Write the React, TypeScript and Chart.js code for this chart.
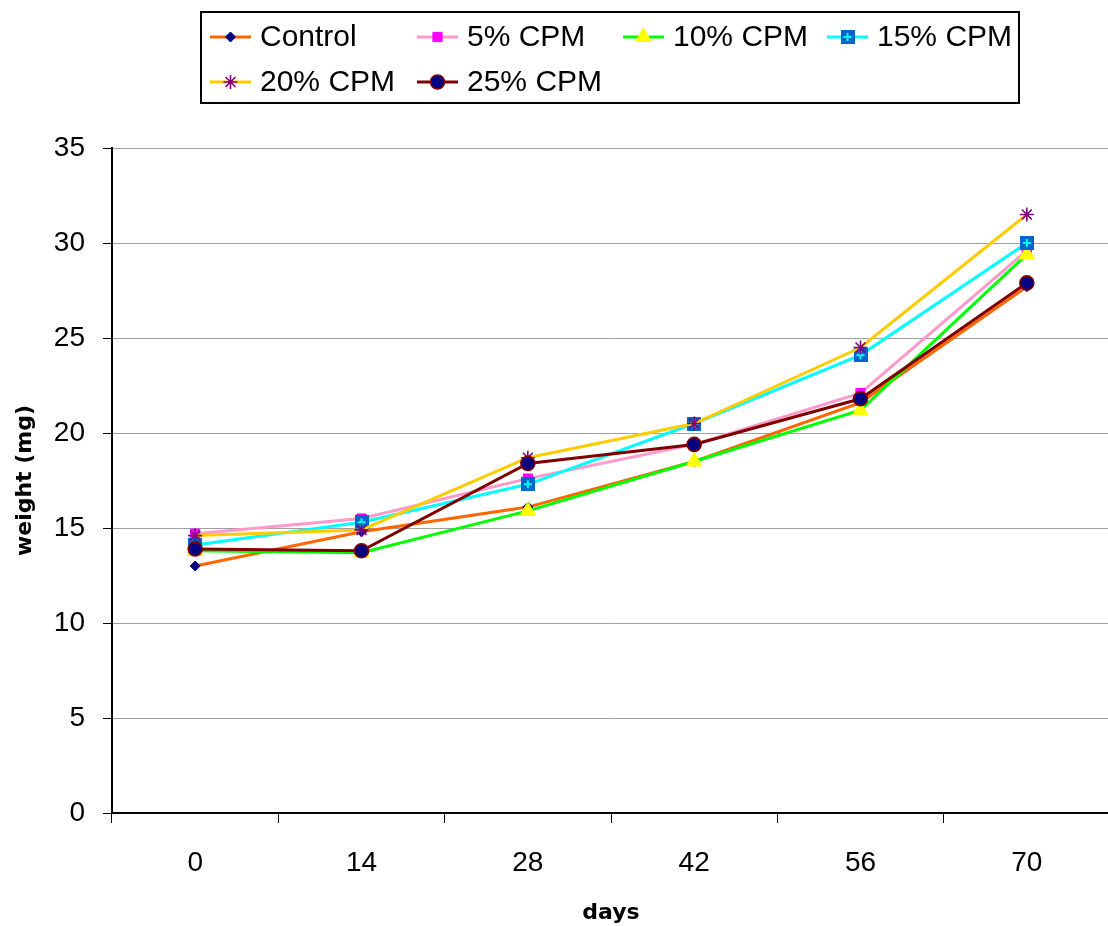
import React, { useEffect, useRef } from "react";
import { Chart, registerables } from "chart.js";

Chart.register(...registerables);

const days = ["0", "14", "28", "42", "56", "70"];
const seriesNames = ["Control", "5% CPM", "10% CPM", "15% CPM", "20% CPM", "25% CPM"];
const control = [13.0, 14.8, 16.1, 18.5, 21.6, 27.7];
const cpm5 = [14.7, 15.5, 17.6, 19.4, 22.1, 29.6];
const cpm10 = [13.8, 13.7, 15.9, 18.5, 21.2, 29.4];
const cpm15 = [14.1, 15.3, 17.3, 20.5, 24.1, 30.0];
const cpm20 = [14.6, 14.9, 18.7, 20.5, 24.5, 31.5];
const cpm25 = [13.9, 13.8, 18.4, 19.4, 21.8, 27.9];
const yTicks = [0, 5, 10, 15, 20, 25, 30, 35];

type Marker = {
  style: string;
  radius: number;
  bg: string;
  border: string;
  borderWidth: number;
};

const lineColors = ["#FF6600", "#FF99CC", "#00FF00", "#00FFFF", "#FFCC00", "#800000"];
const markers: Marker[] = [
  { style: "rectRot", radius: 5, bg: "#000080", border: "#000080", borderWidth: 1 },
  { style: "rect", radius: 6.5, bg: "#FF00FF", border: "#FF00FF", borderWidth: 1 },
  { style: "triangle", radius: 9, bg: "#FFFF00", border: "#FFFF00", borderWidth: 1 },
  { style: "image", radius: 7, bg: "#0066CC", border: "#00FFFF", borderWidth: 1 },
  { style: "star", radius: 7, bg: "#800080", border: "#800080", borderWidth: 1.6 },
  { style: "circle", radius: 7, bg: "#000080", border: "#800000", borderWidth: 1.6 },
];

function makeSquarePlus(): HTMLCanvasElement {
  const c = document.createElement("canvas");
  c.width = 14;
  c.height = 14;
  const g = c.getContext("2d")!;
  g.fillStyle = "#0066CC";
  g.fillRect(0, 0, 14, 14);
  g.strokeStyle = "#00FFFF";
  g.lineWidth = 2;
  g.beginPath();
  g.moveTo(7, 3);
  g.lineTo(7, 11);
  g.moveTo(3, 7);
  g.lineTo(11, 7);
  g.stroke();
  return c;
}

function drawMarker(ctx: CanvasRenderingContext2D, m: Marker, x: number, y: number, img: HTMLCanvasElement) {
  const r = m.radius;
  ctx.save();
  ctx.fillStyle = m.bg;
  ctx.strokeStyle = m.border;
  ctx.lineWidth = m.borderWidth;
  ctx.beginPath();
  if (m.style === "image") {
    ctx.drawImage(img, x - img.width / 2, y - img.height / 2);
    ctx.restore();
    return;
  } else if (m.style === "rectRot") {
    ctx.moveTo(x, y - r);
    ctx.lineTo(x + r, y);
    ctx.lineTo(x, y + r);
    ctx.lineTo(x - r, y);
    ctx.closePath();
    ctx.fill();
    ctx.stroke();
  } else if (m.style === "rect") {
    const s = r * Math.SQRT1_2;
    ctx.rect(x - s, y - s, 2 * s, 2 * s);
    ctx.fill();
    ctx.stroke();
  } else if (m.style === "triangle") {
    let a = 0;
    for (let k = 0; k < 3; k++) {
      const px = x + Math.sin(a) * r;
      const py = y - Math.cos(a) * r;
      if (k === 0) ctx.moveTo(px, py);
      else ctx.lineTo(px, py);
      a += (2 * Math.PI) / 3;
    }
    ctx.closePath();
    ctx.fill();
    ctx.stroke();
  } else if (m.style === "star") {
    ctx.moveTo(x, y - r);
    ctx.lineTo(x, y + r);
    ctx.moveTo(x - r, y);
    ctx.lineTo(x + r, y);
    const d = r * Math.SQRT1_2;
    ctx.moveTo(x - d, y - d);
    ctx.lineTo(x + d, y + d);
    ctx.moveTo(x - d, y + d);
    ctx.lineTo(x + d, y - d);
    ctx.stroke();
  } else {
    ctx.arc(x, y, r, 0, Math.PI * 2);
    ctx.fill();
    ctx.stroke();
  }
  ctx.restore();
}

export default function App() {
  const ref = useRef<HTMLCanvasElement | null>(null);

  useEffect(() => {
    document.body.style.margin = "0";
    document.body.style.overflow = "hidden";
    const canvas = ref.current;
    if (!canvas) return;
    const img = makeSquarePlus();
    const values = [control, cpm5, cpm10, cpm15, cpm20, cpm25];

    const legendPlugin = {
      id: "boxLegend",
      afterDraw(chart: Chart) {
        const ctx = chart.ctx;
        ctx.save();
        ctx.strokeStyle = "#000";
        ctx.lineWidth = 2;
        ctx.strokeRect(201, 12, 818, 91);
        const colX = [210, 417, 623, 827];
        const rowY = [37, 82];
        seriesNames.forEach((name, i) => {
          const x = colX[i % 4];
          const y = rowY[Math.floor(i / 4)];
          ctx.strokeStyle = lineColors[i];
          ctx.lineWidth = 3;
          ctx.beginPath();
          ctx.moveTo(x, y);
          ctx.lineTo(x + 41, y);
          ctx.stroke();
          drawMarker(ctx, markers[i], x + 20.5, y, img);
          ctx.fillStyle = "#000";
          ctx.font = "30px 'Liberation Sans', Arial, sans-serif";
          ctx.textBaseline = "middle";
          ctx.textAlign = "left";
          ctx.fillText(name, x + 50, y + 1);
        });
        ctx.restore();
      },
    };

    const chart = new Chart(canvas, {
      type: "line",
      data: {
        labels: days,
        datasets: seriesNames.map((name, i) => ({
          label: name,
          data: values[i],
          borderColor: lineColors[i],
          borderWidth: 3,
          backgroundColor: markers[i].bg,
          pointStyle: (markers[i].style === "image" ? img : markers[i].style) as any,
          pointRadius: markers[i].radius,
          pointHoverRadius: markers[i].radius,
          pointBackgroundColor: markers[i].bg,
          pointBorderColor: markers[i].border,
          pointBorderWidth: markers[i].borderWidth,
          tension: 0,
          fill: false,
          order: seriesNames.length - i,
        })),
      },
      options: {
        responsive: false,
        animation: false,
        devicePixelRatio: 1,
        layout: { padding: { top: 148, left: 0, right: 0, bottom: 0 } },
        plugins: {
          legend: { display: false },
          tooltip: { enabled: false },
        },
        scales: {
          x: {
            type: "category",
            offset: true,
            afterFit: (s: any) => {
              s.height = 113;
            },
            grid: {
              display: true,
              drawOnChartArea: false,
              drawTicks: true,
              tickLength: 10,
              tickColor: "#000",
              tickWidth: 1,
              offset: true,
            },
            border: { display: true, color: "#000", width: 2 },
            ticks: {
              color: "#000",
              padding: 23,
              font: { family: "'Liberation Sans', Arial, sans-serif", size: 28 },
            },
            title: {
              display: true,
              text: "days",
              color: "#000",
              padding: { top: 0, bottom: 0 },
              font: { family: "'DejaVu Sans', sans-serif", size: 22, weight: "bold" },
            },
          },
          y: {
            min: 0,
            max: 35,
            afterFit: (s: any) => {
              s.width = 112;
            },
            afterBuildTicks: (s: any) => {
              s.ticks = yTicks.map((v) => ({ value: v }));
            },
            grid: {
              color: "#a0a0a0",
              lineWidth: 1,
              drawTicks: true,
              tickLength: 9,
              tickColor: "#000",
              tickWidth: 1,
            },
            border: { display: true, color: "#000", width: 2 },
            ticks: {
              color: "#000",
              padding: 18,
              font: { family: "'Liberation Sans', Arial, sans-serif", size: 28 },
            },
            title: {
              display: true,
              text: "weight (mg)",
              color: "#000",
              padding: { top: 12, bottom: 0 },
              font: { family: "'DejaVu Sans', sans-serif", size: 22, weight: "bold" },
            },
          },
        },
      },
      plugins: [legendPlugin],
    });
    return () => chart.destroy();
  }, []);

  return (
    <div style={{ width: 1108, height: 926, background: "#fff", overflow: "hidden" }}>
      <canvas ref={ref} width={1120} height={926} style={{ display: "block" }} />
    </div>
  );
}
